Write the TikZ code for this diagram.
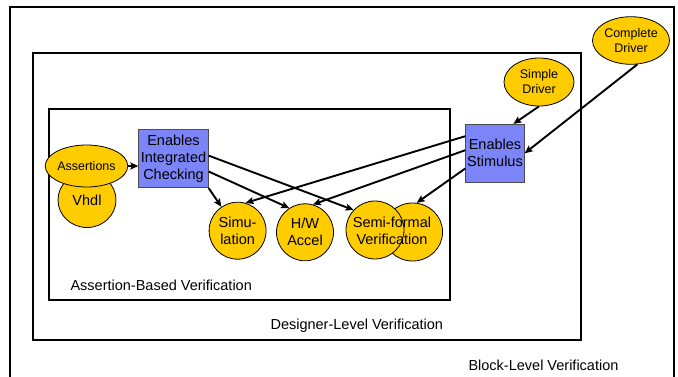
\documentclass[tikz,border=0pt]{standalone}
\usepackage{fontspec}
\setmainfont{Liberation Sans}
\usetikzlibrary{arrows.meta,shapes.geometric}
\definecolor{bubbleYellow}{HTML}{FFCC00}
\definecolor{boxBlue}{HTML}{7B85F7}

\begin{document}
\begin{tikzpicture}[x=1pt,y=-1pt,
  frame/.style={draw,line width=2pt},
  box/.style={draw=black!70,line width=0.8pt,fill=boxBlue,align=center,inner sep=0pt,minimum width=58pt,minimum height=58pt,font=\fontsize{14.5}{17}\selectfont},
  bubble/.style={draw,line width=0.8pt,ellipse,fill=bubbleYellow,align=center,inner sep=0pt,font=\fontsize{14.5}{17}\selectfont},
  small/.style={font=\fontsize{12.5}{15}\selectfont},
  caption/.style={anchor=west,font=\fontsize{14.5}{17}\selectfont},
  arrow/.style={-{Stealth[length=8pt,width=7pt,inset=1.5pt]},line width=1.9pt}]
\useasboundingbox (0,0) rectangle (678,377);
\draw[frame] (10,7) rectangle (674,377.6);
\draw[frame] (33,53) rectangle (581,340);
\draw[frame] (49,109) rectangle (450,300);
\node[caption] (blv) at (465,365) {Block-Level Verification};
\node[caption] (dlv) at (267,326) {Designer-Level Verification};
\node[caption] (abv) at (67,285) {Assertion-Based Verification};
\node[bubble,minimum width=58pt,minimum height=55pt] (vhdl) at (87,200) {Vhdl};
\node[bubble,small,minimum width=64pt,minimum height=42pt] (assert) at (86.5,166) {Assertions};
\node[box,minimum width=69.5pt] (check) at (173.5,158.7) {Enables\\Integrated\\Checking};
\node[bubble,minimum width=57pt,minimum height=57pt] (sim) at (237.6,230.7) {Simu-\\lation};
\node[bubble,minimum width=57pt,minimum height=57pt] (accel) at (305,232.3) {H/W\\Accel};
\node[bubble,minimum width=60pt,minimum height=58pt] (formalB) at (412.6,232) {};
\node[bubble,minimum width=58pt,minimum height=58pt] (formalA) at (375,230) {};
\node[align=center,inner sep=0pt,font=\fontsize{14.5}{17}\selectfont] (formal) at (392,231) {Semi-formal\\Verification};
\node[box,minimum width=58.5pt] (stim) at (495,153.3) {Enables\\Stimulus};
\node[bubble,small,minimum width=70pt,minimum height=48pt] (simple) at (539,82) {Simple\\Driver};
\node[bubble,small,minimum width=77pt,minimum height=47.6pt] (complete) at (631,40.5) {Complete\\Driver};
\draw[arrow] (assert.east) -- (assert.east -| check.west);
\draw[arrow] (check.south east) -- (sim);
\draw[arrow] (check.-20) -- (accel.123);
\draw[arrow] (check.5) -- (formalA.137);
\draw[arrow] (stim.150) -- (sim.74);
\draw[arrow] (stim.174) -- (accel.74);
\draw[arrow] (stim.207) -- (formalB.82);
\draw[arrow] (simple.south) -- (stim.58);
\draw[arrow] (complete.-75) -- (stim.east);
\end{tikzpicture}
\end{document}
